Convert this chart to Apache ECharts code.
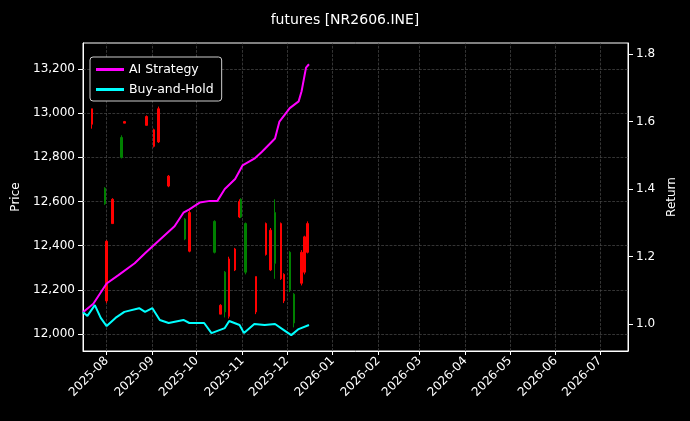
<!DOCTYPE html>
<html><head><meta charset="utf-8">
<script src="https://cdn.jsdelivr.net/npm/echarts@6/dist/echarts.min.js"></script>
<style>html,body{margin:0;background:#000}#c{width:690px;height:421px}</style></head>
<body><div id="c"></div>
<script>
const candleDates=['2025-07-22','2025-07-31','2025-08-01','2025-08-05','2025-08-11','2025-08-13','2025-08-28','2025-09-02','2025-09-05','2025-09-12','2025-09-23','2025-09-26','2025-10-13','2025-10-17','2025-10-20','2025-10-23','2025-10-27','2025-10-30','2025-10-31','2025-11-03','2025-11-10','2025-11-17','2025-11-20','2025-11-23','2025-11-27','2025-11-29','2025-12-03','2025-12-06','2025-12-11','2025-12-13','2025-12-15'];
// [open, close, low, high]
const candleValues=[
[12950,13020,12930,13020],[12660,12590,12585,12665],[12150,12420,12140,12425],[12500,12610,12500,12615],
[12890,12800,12795,12900],[12955,12962,12955,12965],[12945,12985,12945,12990],[12850,12925,12845,12930],
[12870,13020,12865,13030],[12670,12715,12665,12720],[12520,12430,12425,12525],[12375,12550,12370,12560],
[12510,12370,12365,12515],[12090,12130,12090,12135],[12280,12100,12075,12285],[12080,12340,12070,12350],
[12290,12385,12285,12390],[12530,12600,12525,12610],[12610,12530,12525,12615],[12500,12280,12270,12505],
[12100,12260,12090,12260],[12360,12500,12355,12505],[12290,12470,12285,12480],[12550,12320,12250,12610],
[12250,12500,12245,12505],[12150,12270,12140,12275],[12370,12200,12190,12375],[12180,12050,12030,12185],
[12230,12370,12220,12380],[12280,12440,12270,12445],[12370,12500,12365,12510]];
const aiDates=['2025-07-16','2025-07-23','2025-08-01','2025-08-09','2025-08-20','2025-08-27','2025-09-06','2025-09-16','2025-09-22','2025-09-26','2025-10-03','2025-10-10','2025-10-15','2025-10-20','2025-10-27','2025-11-01','2025-11-09','2025-11-14','2025-11-23','2025-11-26','2025-12-03','2025-12-09','2025-12-11','2025-12-14','2025-12-16'];
const aiValues=[1.035,1.06,1.12,1.145,1.18,1.21,1.25,1.29,1.33,1.34,1.36,1.365,1.365,1.40,1.43,1.47,1.49,1.51,1.55,1.60,1.64,1.66,1.69,1.76,1.77];
const bhDates=['2025-07-16','2025-07-19','2025-07-24','2025-07-28','2025-08-01','2025-08-07','2025-08-13','2025-08-23','2025-08-27','2025-09-01','2025-09-06','2025-09-12','2025-09-22','2025-09-26','2025-10-06','2025-10-11','2025-10-20','2025-10-23','2025-10-30','2025-11-02','2025-11-09','2025-11-16','2025-11-23','2025-11-29','2025-12-04','2025-12-09','2025-12-16'];
const bhValues=[1.035,1.024,1.056,1.018,0.994,1.018,1.036,1.047,1.036,1.047,1.012,1.003,1.012,1.003,1.003,0.973,0.988,1.009,0.997,0.973,1.0,0.997,1.0,0.982,0.967,0.985,0.997];
const monthTicks=['2025-08','2025-09','2025-10','2025-11','2025-12','2026-01','2026-02','2026-03','2026-04','2026-05','2026-06','2026-07'];
const priceTicks=[12000,12200,12400,12600,12800,13000,13200];
const returnTicks=[1.0,1.2,1.4,1.6,1.8];

const ts=s=>new Date(s+(s.length===7?'-01':'')+'T00:00:00Z').getTime();
const tickTs=monthTicks.map(ts);
const gridStyle={color:'#4a4a4a',type:'dashed',width:0.7};
const chart=echarts.init(document.getElementById('c'));
chart.setOption({
  backgroundColor:'#000',animation:false,
  textStyle:{fontFamily:'DejaVu Sans'},
  title:{text:'futures [NR2606.INE]',left:'center',top:8,textStyle:{color:'#fff',fontSize:14,fontWeight:'normal',fontFamily:'DejaVu Sans'}},
  legend:{left:90,top:57,orient:'vertical',itemWidth:28,itemHeight:3,itemGap:7,padding:[6,8,5,6],
    borderColor:'#ccc',borderWidth:1,borderRadius:3,backgroundColor:'#000',
    textStyle:{color:'#fff',fontSize:12.5},data:['AI Strategy','Buy-and-Hold'],icon:'rect'},
  grid:{left:83,right:62,top:43,bottom:70,containLabel:false,show:true,borderColor:'#fff',borderWidth:1},
  xAxis:{type:'value',min:ts('2025-07-16'),max:ts('2026-07-20'),
    axisLine:{lineStyle:{color:'#fff'}},
    axisTick:{show:true,customValues:tickTs,lineStyle:{color:'#fff'},length:4},
    axisLabel:{customValues:tickTs,color:'#fff',fontSize:12,rotate:45,margin:8,
      formatter:v=>{const d=new Date(v);return d.getUTCFullYear()+'-'+String(d.getUTCMonth()+1).padStart(2,'0');}},
    splitLine:{show:false}},
  yAxis:[
    {type:'value',min:11923,max:13318,name:'Price',nameLocation:'middle',nameGap:50,nameTextStyle:{color:'#fff',fontSize:12},
     axisLine:{show:true,lineStyle:{color:'#fff'}},axisTick:{show:true,customValues:priceTicks,lineStyle:{color:'#fff'}},
     axisLabel:{customValues:priceTicks,color:'#fff',fontSize:12},splitLine:{show:false}},
    {type:'value',min:0.92,max:1.833,name:'Return',nameLocation:'middle',nameGap:36,nameRotate:90,nameTextStyle:{color:'#fff',fontSize:12},
     axisLine:{show:true,lineStyle:{color:'#fff'}},axisTick:{show:true,customValues:returnTicks,lineStyle:{color:'#fff'}},
     axisLabel:{customValues:returnTicks,color:'#fff',fontSize:12,formatter:v=>v.toFixed(1)},splitLine:{show:false}}
  ],
  series:[
    {type:'candlestick',name:'Price',yAxisIndex:0,barWidth:2,z:2,
     data:candleDates.map((d,i)=>[ts(d)].concat(candleValues[i])),
     itemStyle:{color:'#ff0000',color0:'#008000',borderColor:'#ff0000',borderColor0:'#008000',borderWidth:1},
     markLine:{silent:true,symbol:'none',label:{show:false},lineStyle:gridStyle,animation:false,z:1,
       data:priceTicks.map(v=>({yAxis:v})).concat(tickTs.map(v=>({xAxis:v})))}},
    {type:'line',name:'AI Strategy',yAxisIndex:1,showSymbol:false,z:3,lineStyle:{color:'#ff00ff',width:2},itemStyle:{color:'#ff00ff'},
     data:aiDates.map((d,i)=>[ts(d),aiValues[i]])},
    {type:'line',name:'Buy-and-Hold',yAxisIndex:1,showSymbol:false,z:3,lineStyle:{color:'#00ffff',width:2},itemStyle:{color:'#00ffff'},
     data:bhDates.map((d,i)=>[ts(d),bhValues[i]])}
  ]
});
</script></body></html>
